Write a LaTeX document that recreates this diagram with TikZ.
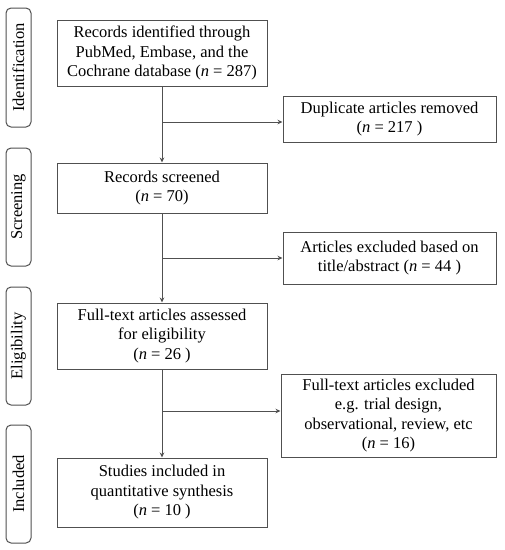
\documentclass[tikz,border=0pt]{standalone}
\usepackage{fontspec}
\setmainfont{Liberation Serif}
\usetikzlibrary{arrows.meta}
\definecolor{lc}{HTML}{505050}
\begin{document}
\begin{tikzpicture}[x=1pt,y=-1pt,
  every node/.style={font=\fontsize{16.5}{19.5}\selectfont, text=black},
  mainbox/.style={draw=lc, line width=1pt, minimum width=210pt, align=center, inner sep=0pt},
  sidebox/.style={draw=lc, line width=1pt, rounded corners=5pt, minimum width=25pt, inner sep=0pt, minimum height=118pt},
  sidetext/.style={rotate=90},
  conn/.style={draw=lc, line width=1pt},
  arr/.style={conn, -{Stealth[length=5pt,width=4.5pt]}}]
\useasboundingbox (0,0) rectangle (505,550);
% side stage boxes
\node[sidebox, minimum height=119pt] (sid) at (18.5,67.5) {};
\node[sidetext] (tid) at (sid.center) {Identification};
\node[sidebox] (ssc) at (18.5,207) {};
\node[sidetext] (tsc) at (ssc.center) {Screening};
\node[sidebox] (sel) at (18.5,346) {};
\node[sidetext] (tel) at (sel.center) {Eligibility};
\node[sidebox] (sin) at (18.5,484) {};
\node[sidetext] (tin) at (sin.center) {Included};
% main boxes
\node[mainbox, minimum height=66pt] (b1) at (162,53) {Records identified through\\PubMed, Embase, and the\\Cochrane database (\textit{n} = 287)};
\node[mainbox, minimum height=50pt] (b2) at (162,188) {Records screened\\(\textit{n} = 70)};
\node[mainbox, minimum height=66pt] (b3) at (162,336) {Full-text articles assessed\\for eligibility\\(\textit{n} = 26 )};
\node[mainbox, minimum height=69pt] (b4) at (162,492.5) {Studies included in\\quantitative synthesis\\(\textit{n} = 10 )};
% right boxes
\node[mainbox, minimum width=213pt, minimum height=46pt] (r1) at (389.5,119) {Duplicate articles removed\\(\textit{n} = 217 )};
\node[mainbox, minimum width=213pt, minimum height=52pt] (r2) at (389.5,258) {Articles excluded based on\\title/abstract (\textit{n} = 44 )};
\node[mainbox, minimum width=215pt, minimum height=83pt] (r3) at (388.5,415.5) {Full-text articles excluded\\e.g. trial design,\\observational, review, etc\\(\textit{n} = 16)};
% connectors
\draw[arr] (b1.south) -- (b2.north);
\draw[arr] (b2.south) -- (b3.north);
\draw[arr] (b3.south) -- (b4.north);
\coordinate (j1) at (b1.south |- 0,122);
\coordinate (j2) at (b2.south |- 0,258);
\coordinate (j3) at (b3.south |- 0,411);
\draw[arr] (j1) -- (j1 -| r1.west);
\draw[arr] (j2) -- (j2 -| r2.west);
\draw[arr] (j3) -- (j3 -| r3.west);
\end{tikzpicture}
\end{document}
